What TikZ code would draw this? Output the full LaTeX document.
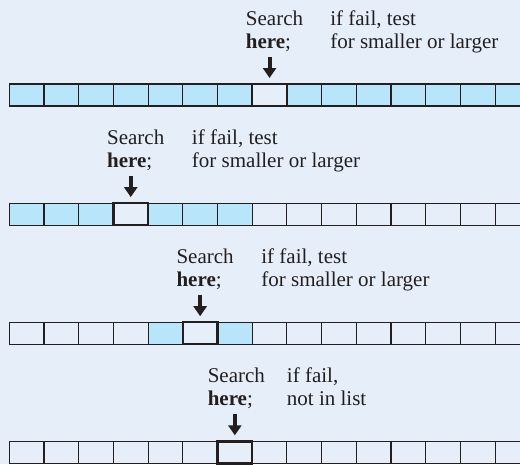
\documentclass[tikz,border=0pt]{standalone}
\usepackage{fontspec}
\setmainfont{Liberation Serif}
\usetikzlibrary{positioning, arrows.meta}

\definecolor{panelbg}{HTML}{E6EEF9}
\definecolor{cellblue}{HTML}{B9E5FA}
\definecolor{inkdark}{HTML}{231F20}

\begin{document}
\begin{tikzpicture}[
    x=0.75pt, y=-0.75pt,
    cell/.style={rectangle, draw=inkdark, line width=0.8pt, minimum width=26.025pt, minimum height=16.5pt, inner sep=0pt, outer sep=0pt},
    hit/.style={cell, fill=panelbg, line width=1.9pt},
    note/.style={inner sep=0pt, align=left, anchor=base west, font=\fontsize{15.75}{17.25}\selectfont, text=inkdark},
    pointer/.style={draw=inkdark, line width=3pt, -{Triangle[width=9.75pt, length=7.5pt]}}
]
    \useasboundingbox[fill=panelbg] (0,0) rectangle (520,464);

    %% ROWS OF CELLS
    \foreach \r/\h/\lo/\hi in {1/7/0/14, 2/3/0/6, 3/5/4/6, 4/6/-1/-1} {
        \foreach \c in {0,...,14} {
            \pgfmathtruncatemacro\inblue{and(\c>=\lo,\c<=\hi)}
            \ifnum\inblue=1 \def\cellfill{cellblue}\else\def\cellfill{panelbg}\fi
            \node [cell, fill=\cellfill] (c\r-\c) at (\c*34.7+26.65, 95+119.1*\r-119.1) {};
        }
        % Searched cell
        \node [hit] (h\r) at (c\r-\h) {};
    }

    %% ROW 1
    \node [note] (s1) at ([shift={(-6.5,-36)}]h1.north west) {Search\\\textbf{here};};
    \node [note] (t1) at ([shift={(77.8,-36)}]h1.north west) {if fail, test\\for smaller or larger};
    \draw [pointer] ([yshift=20.25pt]h1.north) -- ([yshift=4.5pt]h1.north);

    %% ROW 2
    \node [note] (s2) at ([shift={(-6.5,-36)}]h2.north west) {Search\\\textbf{here};};
    \node [note] (t2) at ([shift={(78.3,-36)}]h2.north west) {if fail, test\\for smaller or larger};
    \draw [pointer] ([yshift=20.25pt]h2.north) -- ([yshift=4.5pt]h2.north);

    %% ROW 3
    \node [note] (s3) at ([shift={(-6.5,-36)}]h3.north west) {Search\\\textbf{here};};
    \node [note] (t3) at ([shift={(78.3,-36)}]h3.north west) {if fail, test\\for smaller or larger};
    \draw [pointer] ([yshift=20.25pt]h3.north) -- ([yshift=4.5pt]h3.north);

    %% ROW 4
    \node [note] (s4) at ([shift={(-10,-36)}]h4.north west) {Search\\\textbf{here};};
    \node [note] (t4) at ([shift={(69.2,-36)}]h4.north west) {if fail,\\not in list};
    \draw [pointer] ([yshift=20.25pt]h4.north) -- ([yshift=4.5pt]h4.north);

\end{tikzpicture}
\end{document}
